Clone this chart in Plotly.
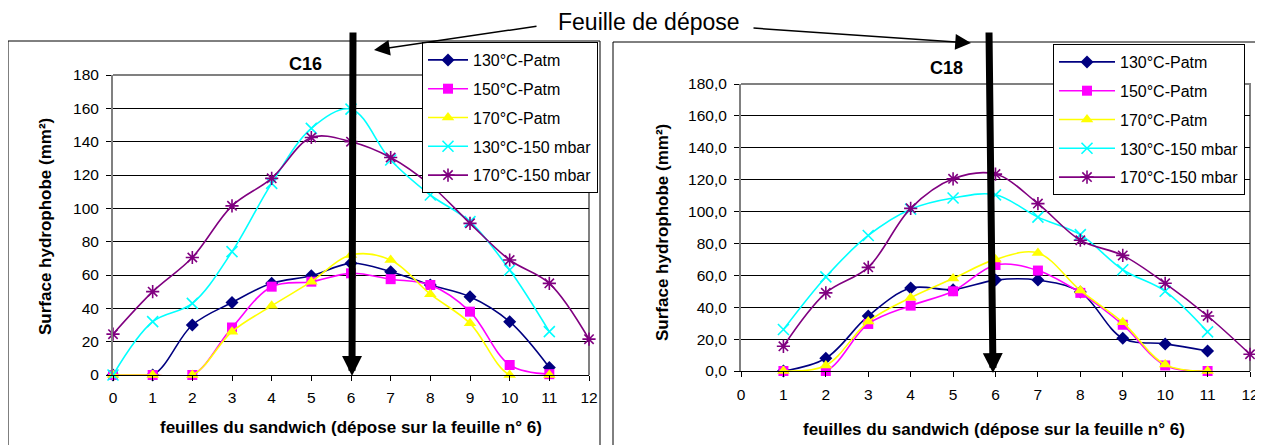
import plotly.graph_objects as go

# the page body has an 8px margin, so the figure is shifted by OFF px
OFF = 8
W, H = 1263 - OFF, 445 - OFF

# ---------------- data ----------------
series_names = ["130°C-Patm", "150°C-Patm", "170°C-Patm", "130°C-150 mbar", "170°C-150 mbar"]

x16 = [0, 1, 2, 3, 4, 5, 6, 7, 8, 9, 10, 11]
x16_long = [0, 1, 2, 3, 4, 5, 6, 7, 8, 9, 10, 11, 12]
c16_130_patm = [0, 0, 30, 43.5, 55, 59.5, 67, 62, 54, 47, 32, 4.5]
c16_150_patm = [0, 0, 0, 28.5, 53, 56, 61, 57.5, 54, 38, 6, 0.5]
c16_170_patm = [0, 0, 0, 26, 41.5, 56, 72, 69, 48.5, 31, 0, 0]
c16_130_150 = [0, 32, 43, 74, 115, 148, 159.5, 129, 108, 92, 63, 26]
c16_170_150 = [24.5, 50, 70.5, 101.5, 118, 142.5, 140, 130.5, 114, 91, 69, 55, 21.5]

x18 = [1, 2, 3, 4, 5, 6, 7, 8, 9, 10, 11]
x18_long = [1, 2, 3, 4, 5, 6, 7, 8, 9, 10, 11, 12]
c18_130_patm = [0, 8, 34.5, 52, 51, 57, 57, 49.5, 20.5, 17, 12.5]
c18_150_patm = [0, 0, 29.5, 41, 50, 66.5, 63, 49, 29, 3.5, 0]
c18_170_patm = [0, 3.5, 31, 46, 58, 70, 74, 50.5, 30.5, 4, 0]
c18_130_150 = [26, 59, 85, 101.5, 108.5, 110.5, 96.5, 85.5, 63.5, 50, 24.5]
c18_170_150 = [15.5, 49, 65, 102, 120.5, 123.5, 105, 82, 72.5, 55, 34.5, 10.5]

x_ticks = list(range(0, 13))
y_ticks = list(range(0, 181, 20))

titles = ["C16", "C18"]
x_title = "feuilles du sandwich (dépose sur la feuille n° 6)"
y_title = "Surface hydrophobe (mm²)"
note_text = "Feuille de dépose"

# ---------------- styles ----------------
FONT = "Arial, 'Liberation Sans', sans-serif"
styles = [
    dict(color="#000080", symbol="diamond", size=10),
    dict(color="#FF00FF", symbol="square", size=10),
    dict(color="#FFFF00", symbol="triangle-up", size=11),
    dict(color="#00FFFF", symbol="x-thin-open", size=11),
    dict(color="#800080", symbol="asterisk-open", size=11),
]


def px_x(p):
    return (p - OFF) / W


def px_y(p):
    return 1 - (p - OFF) / H


fig = go.Figure()

panels = [
    ("x", "y", "legend", [(x16, c16_130_patm), (x16, c16_150_patm), (x16, c16_170_patm),
                          (x16, c16_130_150), (x16_long, c16_170_150)]),
    ("x2", "y2", "legend2", [(x18, c18_130_patm), (x18, c18_150_patm), (x18, c18_170_patm),
                             (x18, c18_130_150), (x18_long, c18_170_150)]),
]

for xa, ya, leg, data in panels:
    for i, (xs, ys) in enumerate(data):
        st = styles[i]
        open_sym = st["symbol"].endswith("open")
        fig.add_trace(go.Scatter(
            x=xs, y=ys, name=series_names[i], xaxis=xa, yaxis=ya, legend=leg,
            legendgroup=f"{leg}_{i}",
            mode="lines+markers",
            line=dict(color=st["color"], width=1.6, shape="spline", smoothing=1.0),
            marker=dict(symbol=st["symbol"], size=st["size"], color=st["color"],
                        line=dict(color=st["color"], width=1.6 if open_sym else 0)),
            cliponaxis=False,
        ))

axis_common = dict(
    zeroline=False, ticks="outside", ticklen=5, tickwidth=1,
    tickcolor="black", tickfont=dict(family=FONT, size=15.5, color="black"),
)

# plot area pixel geometry (reference pixels)
L = dict(x0=113, x1=589, y0=75, y1=375)
R = dict(x0=741, x1=1250, y0=84, y1=371)

fig.update_layout(
    width=W, height=H, autosize=False,
    margin=dict(l=0, r=0, t=0, b=0, pad=0, autoexpand=False),
    paper_bgcolor="white", plot_bgcolor="white",
    separators=", ",
    font=dict(family=FONT, color="black"),
    xaxis=dict(domain=[px_x(L["x0"]), px_x(L["x1"])], range=[0, 12], tickvals=x_ticks,
               anchor="y", showline=True, linecolor="black", linewidth=1, showgrid=False,
               ticklabelstandoff=3, **axis_common),
    yaxis=dict(domain=[px_y(L["y1"]), px_y(L["y0"])], range=[0, 180], tickvals=y_ticks,
               tickformat=".0f", anchor="x", showline=True, linecolor="#808080", linewidth=2,
               showgrid=True, gridcolor="black", gridwidth=1, ticklabelstandoff=4,
               **axis_common),
    xaxis2=dict(domain=[px_x(R["x0"]), px_x(R["x1"])], range=[0, 12], tickvals=x_ticks,
                anchor="y2", showline=True, linecolor="black", linewidth=1, showgrid=False,
                ticklabelstandoff=4, **axis_common),
    yaxis2=dict(domain=[px_y(R["y1"]), px_y(R["y0"])], range=[0, 180], tickvals=y_ticks,
                tickformat=".1f", anchor="x2", showline=True, linecolor="#808080", linewidth=2,
                showgrid=True, gridcolor="black", gridwidth=1, ticklabelstandoff=4,
                **axis_common),
    legend=dict(x=px_x(422), y=px_y(42), xanchor="left", yanchor="top",
                bgcolor="white", bordercolor="black", borderwidth=1,
                font=dict(family=FONT, size=16, color="black"),
                tracegroupgap=5, itemwidth=40),
    legend2=dict(x=px_x(1053), y=px_y(44), xanchor="left", yanchor="top",
                 bgcolor="white", bordercolor="black", borderwidth=1,
                 font=dict(family=FONT, size=16, color="black"),
                 tracegroupgap=5, itemwidth=56),
    showlegend=True,
)

shapes = []
# panel borders
shapes.append(dict(type="rect", xref="paper", yref="paper", x0=px_x(8), x1=px_x(600),
                   y0=px_y(470), y1=px_y(41), line=dict(color="black", width=1), layer="below"))
shapes.append(dict(type="rect", xref="paper", yref="paper", x0=px_x(613), x1=px_x(1259),
                   y0=px_y(470), y1=px_y(42), line=dict(color="black", width=1), layer="below"))
# gray plot-area border (top + right)
for g in (L, R):
    shapes.append(dict(type="path", xref="paper", yref="paper",
                       path=f"M{px_x(g['x0'])},{px_y(g['y0'])} L{px_x(g['x1'])},{px_y(g['y0'])} L{px_x(g['x1'])},{px_y(g['y1'])}",
                       line=dict(color="#808080", width=2), layer="between"))
fig.update_layout(shapes=shapes)


def label(text, xp, yp, size, bold=False, angle=0):
    return dict(text=f"<b>{text}</b>" if bold else text, x=px_x(xp), y=px_y(yp),
                xref="paper", yref="paper", xanchor="center", yanchor="middle",
                textangle=angle, showarrow=False,
                font=dict(family=FONT, size=size, color="black"))


ann = [
    label(x_title, 351, 427, 17, bold=True),
    label(x_title, 994, 429, 17, bold=True),
    label(y_title, 45, 227, 17, bold=True, angle=-90),
    label(y_title, 662, 233, 17, bold=True, angle=-90),
    label(titles[0], 305, 64, 18, bold=True),
    label(titles[1], 946, 68, 18, bold=True),
    label(note_text, 649, 22, 23),
]


def arrow(tip, tail, width, size):
    return dict(text="", x=px_x(tip[0]), y=px_y(tip[1]), xref="paper", yref="paper",
                ax=tail[0] - tip[0], ay=tail[1] - tip[1], showarrow=True, arrowhead=2,
                arrowsize=size, arrowwidth=width, arrowcolor="black")


# thin pointer arrows
ann.append(arrow((374, 50), (538, 26), 1.5, 2.1))
ann.append(arrow((971, 43), (752, 28), 1.5, 2.1))
# thick vertical arrows
ann.append(arrow((352, 376), (353, 31), 7, 0.57))
ann.append(arrow((993, 373), (989, 31), 7, 0.57))
fig.update_layout(annotations=ann)

fig.write_html("out.html")
